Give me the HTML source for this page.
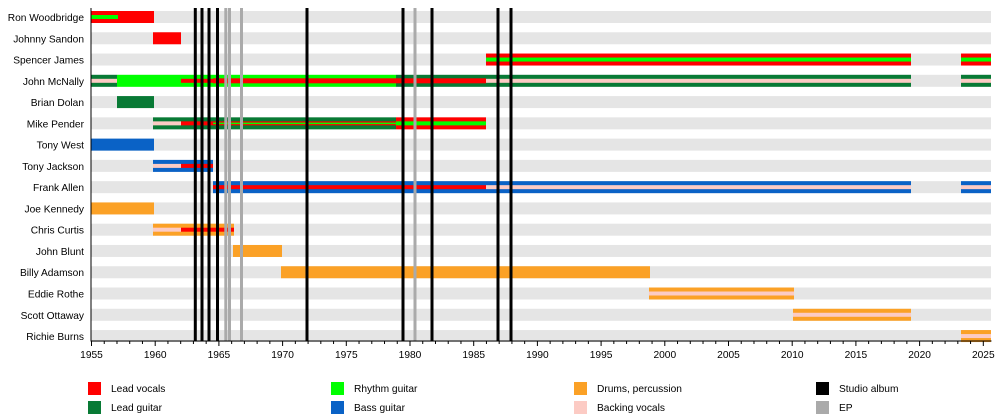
<!DOCTYPE html>
<html><head><meta charset="utf-8"><style>
body{margin:0;background:#fff}
svg{display:block;font-family:"Liberation Sans",sans-serif;font-size:10.2px}
</style></head><body>
<svg id="s" width="1000" height="420" xmlns="http://www.w3.org/2000/svg"></svg>
<script>
const s=document.getElementById('s');
let h='';
const X=y=>91.5+(y-1955)*12.74;
const C=i=>17+i*21.27;
const names=["Ron Woodbridge","Johnny Sandon","Spencer James","John McNally","Brian Dolan","Mike Pender","Tony West","Tony Jackson","Frank Allen","Joe Kennedy","Chris Curtis","John Blunt","Billy Adamson","Eddie Rothe","Scott Ottaway","Richie Burns"];
const R='#ff0000',G='#00ff00',DG='#087a35',B='#0a62c6',O='#fba126',P='#fccbc4';
names.forEach((n,i)=>{
 h+=`<rect x="91" y="${C(i)-6}" width="900" height="12" fill="#e5e5e5"/>`;
 h+=`<text x="84" y="${C(i)+4}" text-anchor="end">${n}</text>`;
});
function bar(i,x1,x2,c,hh){hh=hh||12;h+=`<rect x="${x1}" y="${C(i)-hh/2}" width="${x2-x1}" height="${hh}" fill="${c}"/>`;}
bar(0,91,154,R);bar(0,91,118,G,4);
bar(1,153,181,R);
[[486,911],[961,991]].forEach(([a,b])=>{bar(2,a,b,R);bar(2,a,b,G,4);});
bar(3,91,117,DG);bar(3,91,181,P,4);bar(3,117,396,G);bar(3,396,486,DG);bar(3,181,213,R,4);bar(3,213,486,R,5);
bar(3,486,911,DG);bar(3,486,911,P,4);bar(3,961,991,DG);bar(3,961,991,P,4);
bar(4,117,154,DG);
bar(5,153,396,DG);bar(5,153,181,P,4);bar(5,181,396,R,4);bar(5,213,396,G,1.5);
bar(5,396,486,R);bar(5,396,486,G,4);
bar(6,91,154,B);
bar(7,153,213,B);bar(7,153,181,P,4);bar(7,181,213,R,4);
bar(8,213,911,B);bar(8,213,486,R,4);bar(8,486,911,P,4);bar(8,961,991,B);bar(8,961,991,P,4);
bar(9,91,154,O);
bar(10,153,234,O);bar(10,153,181,P,4);bar(10,181,234,R,4);
bar(11,233,282,O);
bar(12,281,650,O);
bar(13,649,794,O);bar(13,649,794,P,4);
bar(14,793,911,O);bar(14,793,911,P,4);
bar(15,961,991,O);bar(15,961,991,P,4);
[225.8,229.5,241.5,415].forEach(x=>h+=`<rect x="${x-1.5}" y="8" width="3" height="333" fill="#aaaaaa"/>`);
[195.3,202,209,217.5,307,403,432,498,511].forEach(x=>h+=`<rect x="${x-1.5}" y="8" width="3" height="333" fill="#000"/>`);
h+=`<rect x="90.5" y="8" width="1" height="333" fill="#000"/>`;
h+=`<rect x="90.5" y="340.5" width="901" height="1" fill="#000"/>`;
for(let y=1955;y<=2025;y++){const x=X(y);const m=y%5==0;
 h+=`<rect x="${x-0.5}" y="341" width="1" height="${m?5:3}" fill="#000"/>`;
 if(m)h+=`<text x="${x}" y="358" text-anchor="middle">${y}</text>`;}
const L=[[88,382,R,"Lead vocals"],[88,401,DG,"Lead guitar"],[331,382,G,"Rhythm guitar"],[331,401,B,"Bass guitar"],[574,382,O,"Drums, percussion"],[574,401,P,"Backing vocals"],[816,382,"#000","Studio album"],[816,401,"#aaaaaa","EP"]];
L.forEach(([x,y,c,t])=>{h+=`<rect x="${x}" y="${y}" width="13" height="13" fill="${c}"/><text x="${x+23}" y="${y+10}">${t}</text>`;});
s.innerHTML=h;
</script>
</body></html>
